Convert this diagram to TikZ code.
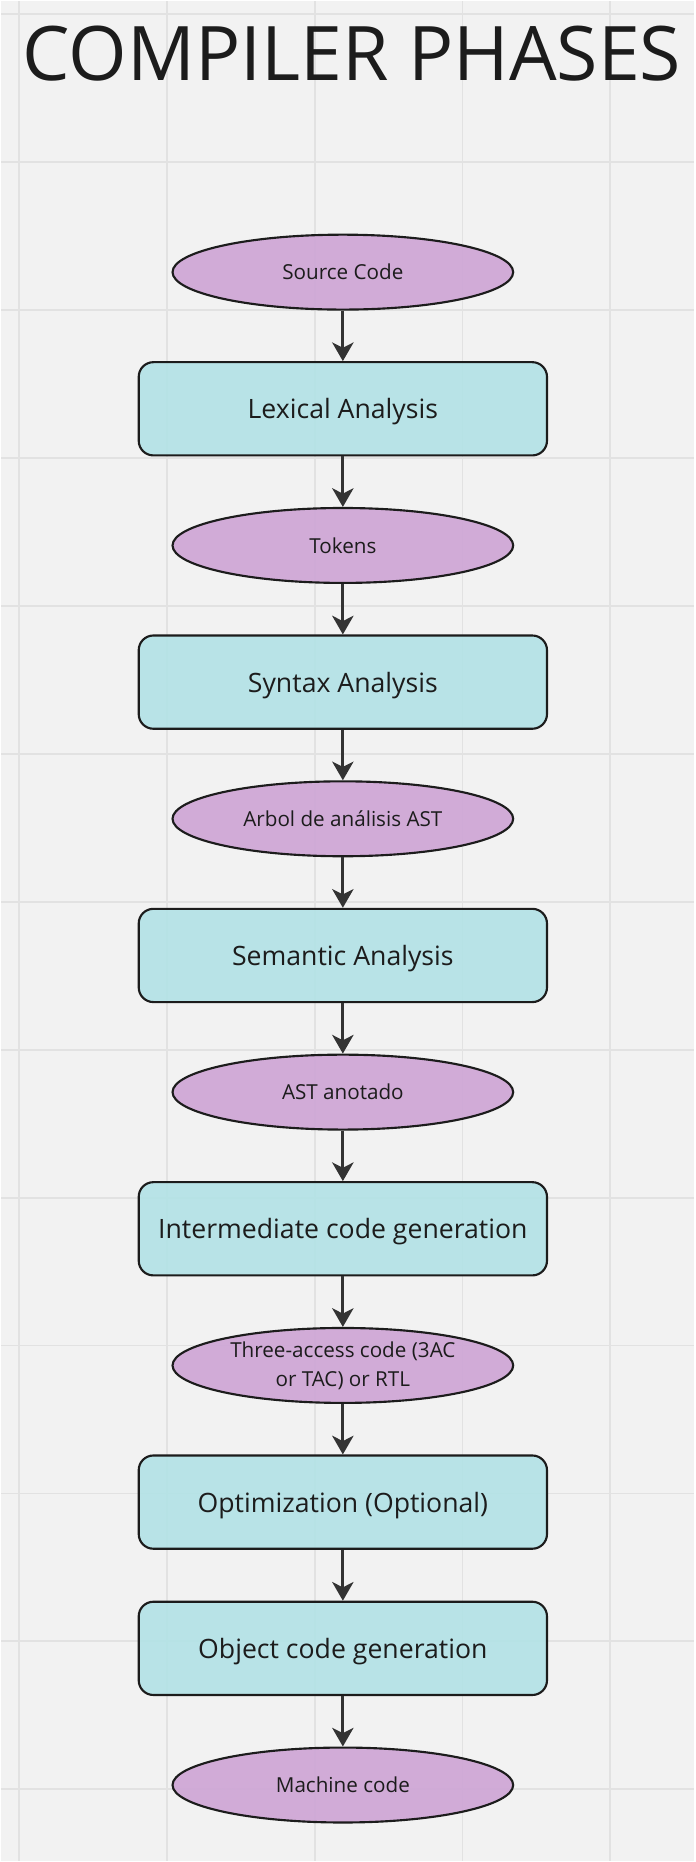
\documentclass[tikz,border=0pt]{standalone}
\usepackage{fontspec}
\setmainfont{Open Sans}
\usepackage{tikz}
\usetikzlibrary{shapes.geometric, arrows.meta, positioning, calc}
\definecolor{bggray}{HTML}{F2F2F2}
\definecolor{gridgray}{HTML}{E2E2E2}
\definecolor{datapurple}{HTML}{CEA4D5}
\definecolor{phasecyan}{HTML}{B2E2E6}
\definecolor{inkgray}{HTML}{1C1C1C}
\definecolor{arrowgray}{HTML}{333333}
\tikzstyle{data} = [draw=inkgray, ellipse, line width=1.6pt, fill=datapurple, fill opacity=0.9, text opacity=1, minimum width=255.75pt, minimum height=56.25pt, inner sep=0pt, align=center, text=inkgray, font=\fontsize{15.5}{22}\selectfont]
\tikzstyle{phase} = [draw=inkgray, rectangle, rounded corners=11pt, line width=1.6pt, fill=phasecyan, fill opacity=0.9, text opacity=1, minimum width=306.5pt, minimum height=70pt, text depth=0pt, align=center, text=inkgray, font=\fontsize{20}{24}\selectfont]
\tikzstyle{arrow} = [line width=2.2pt, draw=arrowgray, ->, >={Stealth[length=14pt, width=16pt, inset=4pt]}]

\begin{document}
\begin{tikzpicture}[node distance=102.6pt, auto]
    % Board and grid
    \fill[bggray] (0,0) rectangle (520.5pt,-1396.5pt);
    \foreach \gx in {13.5,124.5,...,457.5}
        \draw[gridgray, line width=1.4pt] (\gx pt,0) -- (\gx pt,-1396.5pt);
    \foreach \gy in {0,...,12}
        \draw[gridgray, line width=1.4pt] (0,{-10pt-\gy*111.05pt}) -- (520.5pt,{-10pt-\gy*111.05pt});
    \useasboundingbox (0,0) rectangle (520.5pt,-1396.5pt);

    % Title
    \node (title) [anchor=base, text=inkgray, font=\fontsize{56.5}{60}\selectfont] at (263.5pt,-59.5pt) {COMPILER PHASES};

    % Phases and their outputs
    \node (src) [data] at (256.7pt,-203.6pt) {Source Code};
    \node (lex) [phase, below of=src] {Lexical Analysis};
    \node (tok) [data, below of=lex] {Tokens};
    \node (syn) [phase, below of=tok] {Syntax Analysis};
    \node (ast) [data, below of=syn] {Arbol de análisis AST};
    \node (sem) [phase, below of=ast] {Semantic Analysis};
    \node (astann) [data, below of=sem] {AST anotado};
    \node (icg) [phase, below of=astann] {Intermediate code generation};
    \node (tac) [data, below of=icg] {Three-access code (3AC\\or TAC) or RTL};
    \node (opt) [phase, below of=tac] {Optimization (Optional)};
    \node (ocg) [phase, below of=opt, yshift=-7.2pt] {Object code generation};
    \node (mach) [data, below of=ocg] {Machine code};

    % Connections
    \draw [arrow] (src) -- (lex);
    \draw [arrow] (lex) -- (tok);
    \draw [arrow] (tok) -- (syn);
    \draw [arrow] (syn) -- (ast);
    \draw [arrow] (ast) -- (sem);
    \draw [arrow] (sem) -- (astann);
    \draw [arrow] (astann) -- (icg);
    \draw [arrow] (icg) -- (tac);
    \draw [arrow] (tac) -- (opt);
    \draw [arrow] (opt) -- (ocg);
    \draw [arrow] (ocg) -- (mach);
\end{tikzpicture}
\end{document}
